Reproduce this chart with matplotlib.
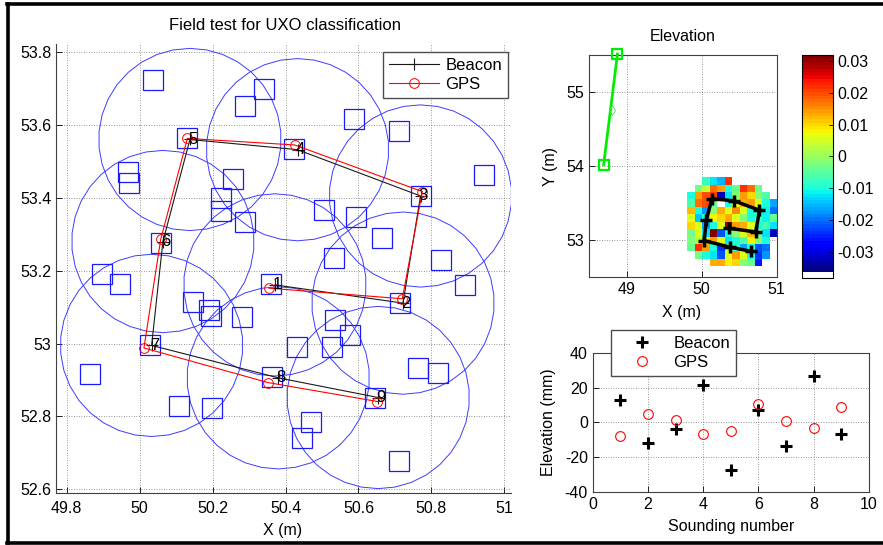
import numpy as np
import matplotlib
matplotlib.use('Agg')
import matplotlib.pyplot as plt
from matplotlib.patches import CirclePolygon
from matplotlib.colors import ListedColormap
from matplotlib.lines import Line2D
from matplotlib.ticker import FormatStrFormatter

plt.rcParams['font.family'] = ['Liberation Sans', 'DejaVu Sans']
plt.rcParams['axes.unicode_minus'] = False

# %% sounding positions (m)
sound_id = ['1', '2', '3', '4', '5', '6', '7', '8', '9']
beacon_x = [50.371, 50.722, 50.770, 50.433, 50.138, 50.064, 50.033, 50.380, 50.654]
beacon_y = [53.161, 53.111, 53.405, 53.532, 53.560, 53.280, 52.995, 52.906, 52.852]
gps_x = [50.355, 50.720, 50.775, 50.425, 50.131, 50.058, 50.012, 50.352, 50.652]
gps_y = [53.152, 53.123, 53.417, 53.545, 53.563, 53.286, 52.988, 52.893, 52.841]
footprint_r = 0.25

# buried targets
target_x = [50.037, 50.341, 50.289, 50.588, 50.712, 50.944, 50.131, 50.424, 50.770,
            49.969, 49.972, 50.256, 50.222, 50.222, 50.289, 50.505, 50.594, 50.664,
            50.060, 50.532, 50.826, 50.891, 49.897, 49.947, 50.360, 50.147, 50.191,
            50.195, 50.281, 50.713, 50.536, 50.577, 50.431, 50.528, 50.029, 49.863,
            50.762, 50.817, 50.362, 50.646, 50.109, 50.199, 50.471, 50.446, 50.710]
target_y = [53.722, 53.699, 53.653, 53.615, 53.582, 53.462, 53.563, 53.534, 53.405,
            53.470, 53.440, 53.451, 53.400, 53.364, 53.334, 53.367, 53.347, 53.290,
            53.277, 53.235, 53.228, 53.161, 53.190, 53.163, 53.164, 53.115, 53.091,
            53.077, 53.072, 53.111, 53.064, 53.024, 52.991, 52.991, 52.995, 52.916,
            52.933, 52.918, 52.908, 52.851, 52.830, 52.824, 52.784, 52.742, 52.677]

# green reference leg
ref_x = [48.695, 48.879]
ref_y = [54.020, 55.513]
ref_mid = (48.80, 54.755)

# gridded elevation (m), top row first
n = np.nan
elev = np.array([
    [n, n, -0.008, -0.012, -0.015, 0.022, n, n, n, n, n, n],
    [n, -0.003, 0.004, 0.018, 0.014, -0.010, -0.004, 0.022, 0.018, -0.004, n, n],
    [-0.010, 0.014, 0.020, 0.021, -0.032, -0.012, -0.002, 0.014, 0.010, -0.002, -0.006, n],
    [-0.006, 0.018, 0.020, -0.004, n, -0.010, 0.007, 0.013, 0.014, 0.006, -0.010, -0.016],
    [0.012, -0.010, -0.018, -0.002, 0.013, 0.006, 0.015, 0.006, -0.010, -0.009, -0.011, -0.020],
    [0.006, -0.014, -0.010, 0.008, 0.010, 0.013, 0.006, -0.002, -0.010, -0.007, -0.011, -0.004],
    [0.010, 0.006, -0.016, -0.010, 0.006, 0.030, 0.014, 0.013, 0.006, -0.010, -0.007, -0.012],
    [-0.003, 0.006, -0.012, 0.032, -0.022, -0.010, -0.002, 0.006, 0.012, -0.003, -0.012, -0.033],
    [-0.002, 0.002, 0.006, 0.014, 0.006, -0.012, -0.010, -0.006, 0.008, -0.002, -0.010, n],
    [-0.004, 0.022, 0.014, -0.010, -0.024, 0.002, -0.008, -0.016, -0.010, -0.022, -0.020, n],
    [n, -0.003, -0.010, -0.012, -0.022, 0.006, 0.014, 0.006, -0.010, -0.024, -0.018, n],
    [n, n, n, 0.013, 0.013, 0.008, 0.010, -0.002, -0.004, -0.026, n, n],
])
grid_x = 49.81 + 0.1 * np.arange(13)
grid_y = 53.85 - 0.1 * np.arange(13)

# elevation per sounding (mm)
sounding = [1, 2, 3, 4, 5, 6, 7, 8, 9]
beacon_mm = [12.7, -11.9, -3.7, 21.2, -27.3, 7.3, -13.8, 26.7, -6.5]
gps_mm = [-8.1, 4.6, 1.5, -6.9, -5.2, 10.4, 0.8, -3.1, 8.8]

W, H = 883, 545
FS = 11.5


def px_axes(l, t, r, b):
    return [l / W, 1 - b / H, (r - l) / W, (b - t) / H]


def style(ax, box=True):
    ax.tick_params(direction='in', length=4, width=0.6, labelsize=FS,
                   top=False, right=False)
    ax.grid(True, linestyle=(0, (1, 2)), color='0.45', linewidth=0.6)
    ax.set_axisbelow(True)
    for side, sp in ax.spines.items():
        sp.set_color('0.25')
        sp.set_linewidth(0.8)
        if not box and side in ('top', 'right'):
            sp.set_visible(False)


fig = plt.figure(figsize=(W / 100, H / 100), dpi=100)

# %% main map
ax = fig.add_axes(px_axes(56, 44, 511, 493))
style(ax, box=False)
for cx, cy in zip(beacon_x, beacon_y):
    ax.add_patch(CirclePolygon((cx, cy), footprint_r, resolution=34, fill=False,
                               edgecolor='#3c3cff', linewidth=0.7))
ax.plot(target_x, target_y, 's', ms=14.4, mfc='none', mec='#1a1aff', mew=0.9)
ax.plot(beacon_x, beacon_y, '-+', color='0.1', lw=0.8, ms=8, mew=0.8, label='Beacon')
ax.plot(gps_x, gps_y, '-o', color='red', lw=0.8, ms=7, mfc='none', mew=0.7, label='GPS')
for lab, tx, ty in zip(sound_id, beacon_x, beacon_y):
    ax.annotate(lab, (tx, ty), xytext=(2, 0), textcoords='offset points',
                ha='center', va='center', fontsize=12)
ax.set_xlim(49.771, 51.018)
ax.set_ylim(52.590, 53.822)
ax.set_xticks(np.arange(49.8, 51.01, 0.2))
ax.set_yticks(np.arange(52.6, 53.81, 0.2))
ax.xaxis.set_major_formatter(FormatStrFormatter('%g'))
ax.yaxis.set_major_formatter(FormatStrFormatter('%g'))
ax.tick_params(axis='x', pad=6)
leg = ax.legend(loc='upper left', bbox_to_anchor=(382.7 / W, 1 - 52.3 / H),
                bbox_transform=fig.transFigure, borderaxespad=0, fontsize=12,
                fancybox=False, edgecolor='0.3', framealpha=1, handlelength=3.0,
                handletextpad=0.4, labelspacing=0.25, borderpad=0.35)
leg.get_frame().set_linewidth(1.0)
fig.text(285, H - 26, 'Field test for UXO classification', transform=None,
         ha='center', va='center', fontsize=12)
fig.text(283, H - 530, 'X (m)', transform=None, ha='center', va='center', fontsize=FS)

# %% elevation map
ax2 = fig.add_axes(px_axes(589, 55, 776.7, 277.3))
style(ax2)
jet = plt.get_cmap('jet')(np.linspace(0, 1, 64))
cmap = ListedColormap(np.vstack([np.ones((2, 4)), jet]))
vmax = 0.0319
vmin = vmax - 66 * (0.0681 / 64)
mesh = ax2.pcolormesh(grid_x, grid_y, elev, cmap=cmap, vmin=vmin, vmax=vmax, zorder=2)
ax2.plot(beacon_x, beacon_y, '-+', color='black', lw=2.5, ms=9, mew=2.5, zorder=3)
ax2.plot(ref_x, ref_y, '-s', color='#00ee00', lw=2, ms=7, mfc='none', mew=1.6,
         zorder=3, clip_on=False)
ax2.plot(*ref_mid, 'd', ms=5, mfc='none', mec='#33ee33', mew=0.6, zorder=3)
ax2.set_xlim(48.5, 51)
ax2.set_ylim(52.5, 55.5)
ax2.set_xticks([49, 50, 51])
ax2.set_yticks([53, 54, 55])
fig.text(683, H - 36.7, 'Elevation', transform=None, ha='center', va='center', fontsize=FS)
fig.text(682, H - 312, 'X (m)', transform=None, ha='center', va='center', fontsize=FS)
fig.text(550, H - 166, 'Y (m)', transform=None, ha='center', va='center',
         rotation=90, fontsize=FS)

cax = fig.add_axes(px_axes(801.7, 55, 833.3, 278.3))
cb = fig.colorbar(mesh, cax=cax, ticks=[0.03, 0.02, 0.01, 0, -0.01, -0.02, -0.03],
                  format=FormatStrFormatter('%g'))
cb.outline.set_linewidth(0.8)
cax.tick_params(direction='in', length=3, width=0.6, labelsize=FS, pad=3)

# %% elevation per sounding
ax3 = fig.add_axes(px_axes(592.7, 352.7, 869, 492))
style(ax3)
ax3.plot(sounding, beacon_mm, '+', color='black', ms=9, mew=2.2, label='Beacon')
ax3.plot(sounding, gps_mm, 'o', color='red', ms=7, mfc='none', mew=0.8, label='GPS')
ax3.set_xlim(0, 10)
ax3.set_ylim(-40, 40)
ax3.set_xticks(range(0, 11, 2))
ax3.set_yticks(range(-40, 41, 20))
leg3 = ax3.legend(loc='upper left', bbox_to_anchor=(610.7 / W, 1 - 330 / H),
                  bbox_transform=fig.transFigure, borderaxespad=0, fontsize=12,
                  fancybox=False, edgecolor='0.3', framealpha=1, handlelength=3.0,
                  handletextpad=0.4, labelspacing=0.25, borderpad=0.35)
leg3.get_frame().set_linewidth(1.0)
fig.text(548, H - 422, 'Elevation (mm)', transform=None, ha='center', va='center',
         rotation=90, fontsize=FS)
fig.text(731, H - 526.7, 'Sounding number', transform=None, ha='center',
         va='center', fontsize=FS)

# %% outer frame
for xs, ys in [((7 / W, 1), (1 - 3.5 / H, 1 - 3.5 / H)),
               ((7 / W, 1), (1.8 / H, 1.8 / H)),
               ((7.8 / W, 7.8 / W), (1.8 / H, 1 - 3.5 / H))]:
    fig.add_artist(Line2D(xs, ys, color='black', lw=2.6, transform=fig.transFigure))

fig.savefig('out.png', dpi=100)
